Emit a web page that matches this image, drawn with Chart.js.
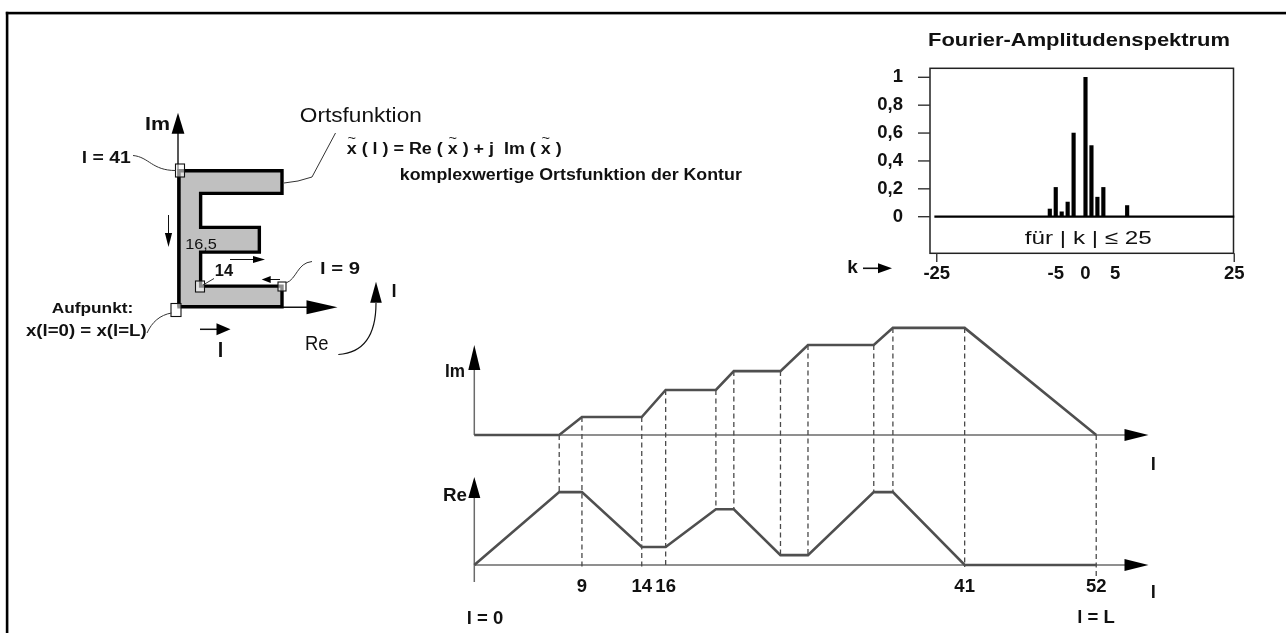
<!DOCTYPE html>
<html>
<head>
<meta charset="utf-8">
<title>Ortsfunktion und Fourier-Amplitudenspektrum einer Kontur</title>
<script src="https://cdn.jsdelivr.net/npm/chart.js@4.4.1/dist/chart.umd.min.js"></script>
<style>
  html, body { margin: 0; padding: 0; background: #fff; overflow: hidden; }
  #c { position: absolute; left: 0; top: 0; }
</style>
</head>
<body>
<canvas id="c" width="1286" height="633" style="width:1286px;height:633px"></canvas>
<script>
// Kontur "E": Eckpunkte in der komplexen Ebene (Re, Im), geschlossen
const contourRe = [0, 10, 10, 2.1, 2.1, 7.8, 7.8, 2.1, 2.1, 10, 10, 0, 0];
const contourIm = [0, 0, 2, 2, 5.3, 5.3, 7.7, 7.7, 11, 11, 13.2, 13.2, 0];

// Ortsfunktion über der Bogenlänge l (Knickpunkte)
const arcL   = [0, 7.1, 9, 14, 16, 20.2, 21.7, 25.6, 27.9, 33.4, 35, 41, 52];
const imVals = [0, 0, 2, 2, 5, 5, 7.1, 7.1, 10, 10, 11.9, 11.9, 0];
const reVals = [0, 8.1, 8.1, 2, 2, 6.2, 6.2, 1.1, 1.1, 8.1, 8.1, 0, 0];
const arcTicks = [9, 14, 16, 41, 52];

// Fourier-Amplitudenspektrum, normiert
const kVals   = [-6, -5, -4, -3, -2, 0, 1, 2, 3, 7];
const ampVals = [0.055, 0.21, 0.035, 0.105, 0.6, 1, 0.51, 0.14, 0.21, 0.08];
const ampTicks = [0, 0.2, 0.4, 0.6, 0.8, 1];
const ampTickLabels = ['0', '0,2', '0,4', '0,6', '0,8', '1'];
const kTicks = [-25, -5, 0, 5, 25];
const kLimit = 25;

const W = 1286, H = 633;
const FONT = '"Liberation Sans", Arial, Helvetica, sans-serif';

// each panel gets its own pair of invisible axes spanning the whole canvas
function hAxis(px0, ppu) { return { min: -px0 / ppu, max: (W - px0) / ppu }; }
function vAxis(py0, ppu) { return { min: (py0 - H) / ppu, max: py0 / ppu }; }
function axis(range) {
  return Object.assign({ type: 'linear', display: false, offset: false, bounds: 'data',
    grid: { display: false } }, range);
}

function txt(ctx, s, x, y, o) {
  o = o || {};
  const size = o.size || 16;
  ctx.save();
  ctx.font = (o.bold ? 'bold ' : '') + size + 'px ' + FONT;
  ctx.fillStyle = o.color || '#111';
  ctx.textBaseline = 'middle';
  ctx.textAlign = 'left';
  const m = ctx.measureText(s).width;
  const sx = o.w ? o.w / m : 1;
  const wd = m * sx;
  const a = o.align || 'center';
  const left = a === 'center' ? x - wd / 2 : (a === 'right' ? x - wd : x);
  ctx.translate(left, y);
  ctx.scale(sx, 1);
  ctx.fillText(s, 0, 0);
  ctx.restore();
}

// text with a tilde over every "x"
function tildeText(ctx, s, cx, y, size, w) {
  ctx.save();
  const f = 'bold ' + size + 'px ' + FONT;
  ctx.font = f;
  const m = ctx.measureText(s).width;
  const sx = w / m;
  ctx.fillStyle = '#111';
  ctx.textBaseline = 'middle';
  ctx.textAlign = 'left';
  ctx.translate(cx - w / 2, y);
  ctx.scale(sx, 1);
  ctx.fillText(s, 0, 0);
  for (let i = 0; i < s.length; i++) {
    if (s[i] !== 'x') continue;
    ctx.font = f;
    const off = ctx.measureText(s.slice(0, i)).width;
    const cw = ctx.measureText('x').width;
    ctx.font = '13px ' + FONT;
    ctx.textAlign = 'center';
    ctx.fillText('~', off + cw / 2, -size * 0.68);
    ctx.textAlign = 'left';
  }
  ctx.restore();
}

function seg(ctx, pts, lw, color, dash) {
  ctx.save();
  ctx.lineWidth = lw;
  ctx.strokeStyle = color;
  ctx.setLineDash(dash || []);
  ctx.beginPath();
  ctx.moveTo(pts[0][0], pts[0][1]);
  for (let i = 1; i < pts.length; i++) ctx.lineTo(pts[i][0], pts[i][1]);
  ctx.stroke();
  ctx.restore();
}

// shaft from (x1,y1) to the tip (x2,y2) with a filled head
function arrow(ctx, x1, y1, x2, y2, head, half, lw, shaftColor) {
  const a = Math.atan2(y2 - y1, x2 - x1);
  const c = Math.cos(a), s = Math.sin(a);
  const bx = x2 - head * c, by = y2 - head * s;
  ctx.save();
  if (Math.hypot(bx - x1, by - y1) > 0.5 && (bx - x1) * c + (by - y1) * s > 0) {
    ctx.strokeStyle = shaftColor || '#111';
    ctx.lineWidth = lw || 1.2;
    ctx.beginPath();
    ctx.moveTo(x1, y1);
    ctx.lineTo(bx + c, by + s);
    ctx.stroke();
  }
  ctx.fillStyle = '#000';
  ctx.beginPath();
  ctx.moveTo(x2, y2);
  ctx.lineTo(bx - half * s, by + half * c);
  ctx.lineTo(bx + half * s, by - half * c);
  ctx.closePath();
  ctx.fill();
  ctx.restore();
}

function box(ctx, x, y, w, h) {
  ctx.save();
  ctx.fillStyle = 'rgba(255,255,255,0.55)';
  ctx.fillRect(x, y, w, h);
  ctx.strokeStyle = '#111';
  ctx.lineWidth = 1.1;
  ctx.strokeRect(x, y, w, h);
  ctx.restore();
}

function curve(ctx, p0, c1, c2, p1, lw, color) {
  ctx.save();
  ctx.lineWidth = lw || 1;
  ctx.strokeStyle = color || '#222';
  ctx.beginPath();
  ctx.moveTo(p0[0], p0[1]);
  if (c2) ctx.bezierCurveTo(c1[0], c1[1], c2[0], c2[1], p1[0], p1[1]);
  else ctx.quadraticCurveTo(c1[0], c1[1], p1[0], p1[1]);
  ctx.stroke();
  ctx.restore();
}

const decor = {
  id: 'decor',
  beforeDatasetsDraw(chart) {
    const ctx = chart.ctx, sc = chart.scales;

    // page frame
    ctx.save();
    ctx.fillStyle = '#000';
    ctx.fillRect(5.8, 11.8, 2.6, H - 11.8);
    ctx.fillRect(5.8, 11.8, W - 5.8, 2.6);
    ctx.restore();

    // complex plane of the contour
    const ex = sc.xE.getPixelForValue(0) - 1, ey = sc.yE.getPixelForValue(0);
    arrow(ctx, ex, ey, ex, 112.7, 21, 6.4, 1.4);
    arrow(ctx, ex, ey + 0.5, 337.5, ey + 0.5, 31, 7, 1.4);

    // spectrum frame, ticks, zero line
    const kx = sc.xK, ky = sc.yK;
    ctx.save();
    ctx.strokeStyle = '#222';
    ctx.lineWidth = 1.5;
    ctx.strokeRect(930, 68.3, 303.5, 185);
    ctx.restore();
    ampTicks.forEach((v) => {
      const y = ky.getPixelForValue(v);
      seg(ctx, [[918, y], [930, y]], 1.4, '#333');
    });
    [-kLimit, kLimit].forEach((k) => {
      const x = kx.getPixelForValue(k);
      seg(ctx, [[x, 253.3], [x, 262]], 1.4, '#333');
    });
    const k0 = ky.getPixelForValue(0);
    seg(ctx, [[kx.getPixelForValue(-kLimit - 0.4), k0], [kx.getPixelForValue(kLimit), k0]], 2.2, '#000');

    // axes of Im(l) and Re(l)
    const xl = sc.xL, yi = sc.yIm, yr = sc.yRe;
    const l0 = xl.getPixelForValue(0), i0 = yi.getPixelForValue(0), r0 = yr.getPixelForValue(0);
    const axisCol = '#6a6a6a';
    arrow(ctx, l0, i0, 1148.5, i0, 24, 6, 1.5, axisCol);
    arrow(ctx, l0, i0, l0, 345, 25, 6, 1.5, axisCol);
    arrow(ctx, l0, r0, 1148.5, r0, 24, 6, 1.5, axisCol);
    arrow(ctx, l0, 582, l0, 477, 21, 6, 1.5, axisCol);

    // dashed guides between corresponding corners
    arcL.forEach((l, i) => {
      if (i === 0) return;
      const x = xl.getPixelForValue(l);
      const top = yi.getPixelForValue(imVals[i]);
      let bot;
      if (arcTicks.includes(l)) bot = r0 + (l === arcL[arcL.length - 1] ? 12 : 2);
      else bot = yr.getPixelForValue(reVals[i]);
      seg(ctx, [[x, top], [x, bot]], 1.3, '#4a4a4a', [5, 3.5]);
    });
  },

  afterDatasetsDraw(chart) {
    const ctx = chart.ctx, sc = chart.scales;

    // markers on the contour
    box(ctx, 175.5, 164, 9, 13);
    box(ctx, 171, 303.5, 10, 13);
    box(ctx, 278, 282, 8, 9);
    box(ctx, 195.5, 281, 9, 11);

    // leader lines
    curve(ctx, [133, 155.5], [149, 157], [152, 170.5], [175.5, 170.5], 1, '#333');
    curve(ctx, [171.5, 313], [160, 315], [152, 322], [147, 333], 1, '#333');
    curve(ctx, [312, 261.5], [297, 263], [297, 279], [286, 283], 1, '#333');
    seg(ctx, [[203, 285], [214, 278.5]], 1, '#333');
    curve(ctx, [284, 183], [298, 182], null, [312, 177], 1, '#333');
    seg(ctx, [[312, 177], [335.5, 133]], 1, '#333');

    // direction arrows along the contour
    arrow(ctx, 168.5, 215, 168.5, 247, 14, 3.6, 1);
    arrow(ctx, 230, 259.5, 265, 259.5, 12, 3.6, 1);
    arrow(ctx, 280, 279.5, 261.7, 279.5, 9, 3.6, 1);
    arrow(ctx, 200, 329.3, 230.5, 329.3, 14, 6, 1.5);
    curve(ctx, [338.3, 354.5], [376, 352], null, [376, 303], 1.2, '#111');
    arrow(ctx, 376, 303, 376, 281.7, 21, 5.8, 1.2);

    // labels of the contour panel
    txt(ctx, 'Im', 157.5, 125, { size: 19, bold: true, w: 25 });
    txt(ctx, 'l = 41', 106.2, 158.5, { size: 16, bold: true, w: 49 });
    txt(ctx, 'Aufpunkt:', 92.5, 309, { size: 14, bold: true, w: 81.6 });
    txt(ctx, 'x(l=0) = x(l=L)', 86.3, 331.5, { size: 16, bold: true, w: 120.7 });
    txt(ctx, 'l = 9', 340, 270, { size: 16, bold: true, w: 40 });
    txt(ctx, '16,5', 201, 244.5, { size: 15, w: 31.7 });
    txt(ctx, '14', 224, 271.5, { size: 16, bold: true, w: 18.3 });
    txt(ctx, 'Re', 316.7, 344.5, { size: 20, w: 23.5 });
    txt(ctx, 'l', 220.5, 351, { size: 20, bold: true });
    txt(ctx, 'l', 394, 292, { size: 18.5, bold: true });

    txt(ctx, 'Ortsfunktion', 360.8, 116.7, { size: 21, w: 122 });
    tildeText(ctx, 'x ( l ) = Re ( x ) + j  Im ( x )', 454.2, 149.5, 16, 215);
    txt(ctx, 'komplexwertige Ortsfunktion der Kontur', 570.8, 175.2, { size: 15.8, bold: true, w: 342 });

    // spectrum labels
    const kx = sc.xK, ky = sc.yK;
    txt(ctx, 'Fourier-Amplitudenspektrum', 1079, 40.5, { size: 19, bold: true, w: 302 });
    ampTicks.forEach((v, i) => {
      txt(ctx, ampTickLabels[i], 903, ky.getPixelForValue(v), { size: 18.5, bold: true, align: 'right' });
    });
    kTicks.forEach((k) => {
      txt(ctx, String(k), kx.getPixelForValue(k), 273.5, { size: 18.5, bold: true });
    });
    txt(ctx, 'k', 852.5, 268, { size: 19, bold: true });
    arrow(ctx, 863, 268.3, 892, 268.3, 14, 5, 1.6);
    txt(ctx, 'für | k | \u2264 25', 1088.3, 239, { size: 19, w: 127 });

    // labels of Im(l) and Re(l)
    const xl = sc.xL;
    txt(ctx, 'Im', 455, 371.5, { size: 18.5, bold: true, w: 20 });
    txt(ctx, 'Re', 455, 496, { size: 18.5, bold: true, w: 24 });
    arcTicks.forEach((t) => {
      txt(ctx, String(t), xl.getPixelForValue(t), 587, { size: 18.5, bold: true });
    });
    txt(ctx, 'l = 0', 485, 618.5, { size: 18.5, bold: true });
    txt(ctx, 'l = L', 1096, 617.5, { size: 18.5, bold: true });
    txt(ctx, 'l', 1153.3, 465, { size: 18.5, bold: true });
    txt(ctx, 'l', 1153.3, 593, { size: 18.5, bold: true });
  }
};

new Chart(document.getElementById('c'), {
  type: 'line',
  data: {
    datasets: [
      {
        type: 'line', label: 'Kontur', xAxisID: 'xE', yAxisID: 'yE',
        data: contourRe.map((r, i) => ({ x: r, y: contourIm[i] })),
        borderColor: '#000', borderWidth: 3.4, backgroundColor: '#c0c0c0',
        fill: 'shape', pointRadius: 0, tension: 0,
        borderCapStyle: 'square', borderJoinStyle: 'miter'
      },
      {
        type: 'bar', label: 'Amplitude', xAxisID: 'xK', yAxisID: 'yK',
        data: kVals.map((k, i) => ({ x: k, y: ampVals[i] })),
        backgroundColor: '#000', borderWidth: 0, barThickness: 3.5
      },
      {
        type: 'line', label: 'Im', xAxisID: 'xL', yAxisID: 'yIm',
        data: arcL.map((l, i) => ({ x: l, y: imVals[i] })),
        borderColor: '#4f4f4f', borderWidth: 2.6, pointRadius: 0, tension: 0, fill: false,
        borderJoinStyle: 'miter'
      },
      {
        type: 'line', label: 'Re', xAxisID: 'xL', yAxisID: 'yRe',
        data: arcL.map((l, i) => ({ x: l, y: reVals[i] })),
        borderColor: '#4f4f4f', borderWidth: 2.6, pointRadius: 0, tension: 0, fill: false,
        borderJoinStyle: 'miter'
      }
    ]
  },
  options: {
    responsive: false,
    animation: false,
    events: [],
    layout: { autoPadding: false, padding: 0 },
    plugins: { legend: { display: false }, tooltip: { enabled: false } },
    scales: {
      xE:  axis(hAxis(179, 10.3)),
      yE:  axis(vAxis(306.7, 10.3)),
      xK:  axis(hAxis(1085.5, 5.95)),
      yK:  axis(vAxis(216.7, 139.4)),
      xL:  axis(hAxis(474.3, 11.96)),
      yIm: axis(vAxis(435, 9)),
      yRe: axis(vAxis(565, 9))
    }
  },
  plugins: [decor]
});
</script>
</body>
</html>
